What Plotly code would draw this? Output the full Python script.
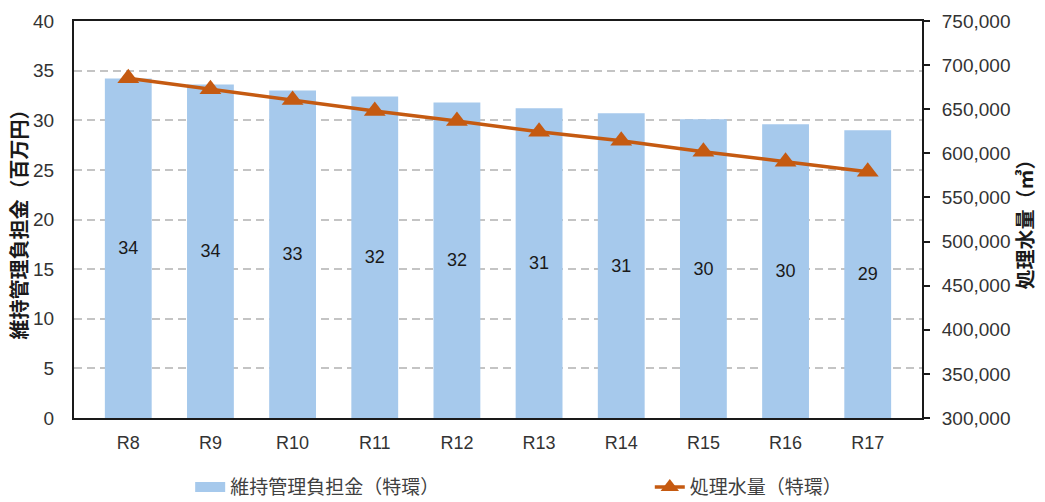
import plotly.graph_objects as go

# 年度
years = ["R8", "R9", "R10", "R11", "R12", "R13", "R14", "R15", "R16", "R17"]
# 維持管理負担金（特環）百万円
cost = [34.2, 33.6, 33.0, 32.4, 31.8, 31.2, 30.7, 30.1, 29.6, 29.0]
# 処理水量（特環）㎥
volume = [685000, 672600, 660400, 648000, 636600, 624500, 614300, 601800, 590500, 579200]

BAR_NAME = "維持管理負担金（特環）"
LINE_NAME = "処理水量（特環）"
BAR_COLOR = "#A6C9EC"
LINE_COLOR = "#C55A11"

FONT = "Liberation Sans, Arial, Noto Sans CJK JP, sans-serif"
NARROW = "Liberation Sans Narrow, Arial Narrow, Liberation Sans, sans-serif"
JP_FONT = "Noto Sans CJK JP, sans-serif"

fig = go.Figure()

fig.add_trace(go.Bar(
    x=years, y=cost, name=BAR_NAME, showlegend=False,
    marker=dict(color=BAR_COLOR, line=dict(width=0)),
    texttemplate="%{y:.0f}", textposition="inside", insidetextanchor="middle",
    textfont=dict(size=18, color="#1a1a1a", family=FONT),
    textangle=0,
))

# legend entry for the bars, drawn as a wide swatch
fig.add_trace(go.Scatter(
    x=[None], y=[None], name=BAR_NAME, mode="lines",
    line=dict(color=BAR_COLOR, width=10), legend="legend",
))

fig.add_trace(go.Scatter(
    x=years, y=volume, name=LINE_NAME, yaxis="y2",
    mode="lines+markers",
    line=dict(color=LINE_COLOR, width=3.5),
    marker=dict(symbol="triangle-up", size=19, color=LINE_COLOR),
    legend="legend2",
))

legend_common = dict(
    orientation="h", y=-0.174, yanchor="middle", xanchor="left",
    font=dict(size=19, color="#404040", family=JP_FONT),
    bgcolor="rgba(0,0,0,0)",
)

fig.update_layout(
    width=1045, height=502,
    margin=dict(l=74, r=123, t=21, b=84, autoexpand=False),
    paper_bgcolor="white", plot_bgcolor="white",
    bargap=0.43,
    showlegend=True,
    legend=dict(x=0.137, **legend_common),
    legend2=dict(x=0.679, **legend_common),
    xaxis=dict(
        showline=True, linecolor="#1a1a1a", linewidth=2, mirror=True,
        ticks="", ticklabelstandoff=7,
        tickfont=dict(size=18, color="#333333", family=NARROW),
        showgrid=False,
    ),
    yaxis=dict(
        range=[0, 40], dtick=5,
        showline=True, linecolor="#1a1a1a", linewidth=2,
        ticks="", ticklabelstandoff=14,
        showgrid=True, gridcolor="#C4C4C4", griddash="8px,5px", gridwidth=1.5,
        zeroline=False,
        tickfont=dict(size=19, color="#333333", family=FONT),
        title=dict(text="<b>維持管理負担金（百万円）</b>", standoff=0,
                   font=dict(size=20, color="#1a1a1a", family=JP_FONT)),
    ),
    yaxis2=dict(
        overlaying="y", side="right",
        range=[300000, 750000], dtick=50000, tickformat=",d",
        showline=True, linecolor="#1a1a1a", linewidth=2,
        ticks="outside", ticklen=6, tickwidth=2, tickcolor="#1a1a1a",
        ticklabelstandoff=8,
        showgrid=False, zeroline=False,
        tickfont=dict(size=19, color="#333333", family=FONT),
        title=dict(text="<b>処理水量（㎥）</b>", standoff=6,
                   font=dict(size=20, color="#1a1a1a", family=JP_FONT)),
    ),
)

fig.write_html("out.html")
